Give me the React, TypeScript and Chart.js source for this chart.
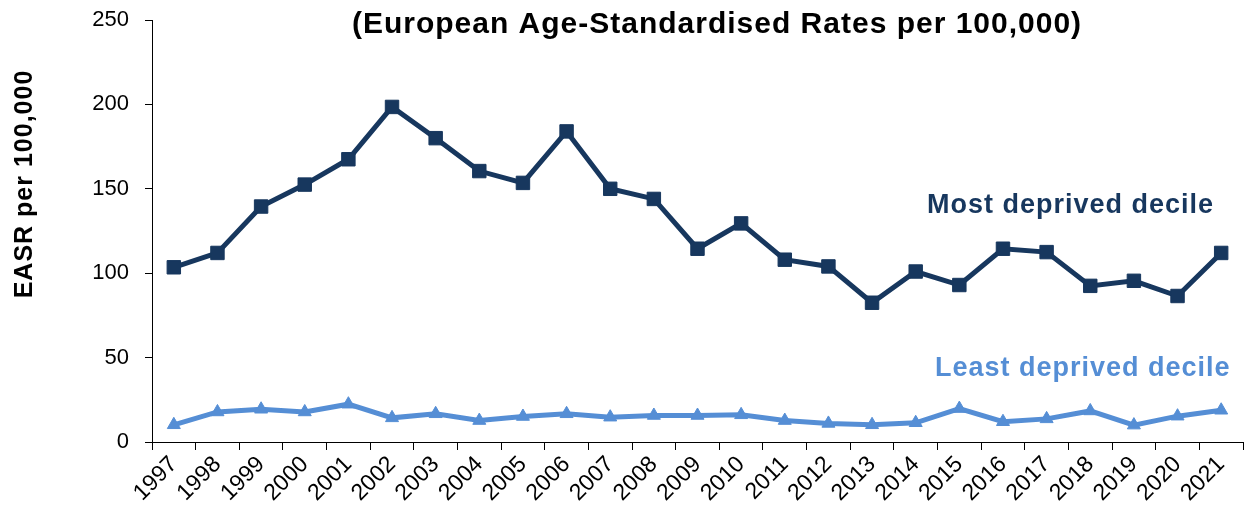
import React, { useEffect, useRef } from 'react';
import { Chart, registerables } from 'chart.js';

Chart.register(...registerables);

const years = ['1997', '1998', '1999', '2000', '2001', '2002', '2003', '2004', '2005', '2006', '2007', '2008', '2009', '2010', '2011', '2012', '2013', '2014', '2015', '2016', '2017', '2018', '2019', '2020', '2021'];
const mostDeprived = [103.5, 112, 139.5, 152.5, 167.5, 198.5, 180, 160.5, 153.5, 184, 150, 144, 114.5, 129.5, 108, 104, 82.5, 101, 93, 114.5, 112.5, 92.5, 95.5, 86.5, 112];
const leastDeprived = [10.2, 17.8, 19.4, 17.8, 22.4, 14.3, 16.7, 12.7, 15.1, 16.7, 14.7, 15.7, 15.7, 16.1, 12.7, 11, 10.2, 11.4, 19.8, 12, 13.7, 18.4, 10, 15.3, 18.8];
const yMin = 0;
const yMax = 250;
const yStep = 50;
const chartTitle = '(European Age-Standardised Rates per 100,000)';
const yAxisTitle = 'EASR per 100,000';
const seriesLabels = ['Most deprived decile', 'Least deprived decile'];

const DARK = '#17375E';
const LIGHT = '#558ED5';
const FONT = '"Liberation Sans", Arial, sans-serif';

const textPlugin = {
  id: 'textAnnotations',
  afterDraw(chart: any) {
    const ctx = chart.ctx as CanvasRenderingContext2D;
    ctx.save();
    (ctx as any).letterSpacing = '1px';
    ctx.fillStyle = '#000';
    ctx.font = `bold 30px ${FONT}`;
    ctx.textAlign = 'center';
    ctx.textBaseline = 'alphabetic';
    ctx.fillText(chartTitle, 717, 33);

    ctx.save();
    ctx.translate(25, 184);
    ctx.rotate(-Math.PI / 2);
    ctx.font = `bold 25px ${FONT}`;
    ctx.textBaseline = 'middle';
    ctx.fillText(yAxisTitle, 0, 0);
    ctx.restore();

    ctx.textAlign = 'left';
    ctx.font = `bold 27px ${FONT}`;
    ctx.fillStyle = DARK;
    ctx.fillText(seriesLabels[0], 927, 213);
    ctx.fillStyle = LIGHT;
    ctx.fillText(seriesLabels[1], 935, 376);
    ctx.restore();
  },
};

export default function App() {
  const canvasRef = useRef<HTMLCanvasElement | null>(null);

  useEffect(() => {
    if (!canvasRef.current) return;
    Chart.defaults.font.family = FONT;
    const chart = new Chart(canvasRef.current, {
      type: 'line',
      data: {
        labels: years,
        datasets: [
          {
            label: seriesLabels[0],
            data: mostDeprived,
            borderColor: DARK,
            backgroundColor: DARK,
            borderWidth: 5,
            pointStyle: 'rect',
            pointRadius: 9.5,
            pointBorderWidth: 1,
            tension: 0,
            clip: false,
          },
          {
            label: seriesLabels[1],
            data: leastDeprived,
            borderColor: LIGHT,
            backgroundColor: LIGHT,
            borderWidth: 5,
            pointStyle: 'triangle',
            pointRadius: 7.5,
            pointBorderWidth: 1,
            tension: 0,
            clip: false,
          },
        ],
      },
      options: {
        responsive: true,
        maintainAspectRatio: false,
        animation: false,
        layout: { autoPadding: false, padding: { top: 20, right: 3, left: 0, bottom: 0 } },
        plugins: {
          legend: { display: false },
          title: { display: false },
          tooltip: { enabled: false },
        },
        scales: {
          x: {
            type: 'category',
            offset: true,
            grid: { offset: true, drawOnChartArea: false, drawTicks: true, tickLength: 8, color: '#000' },
            border: { display: true, color: '#000', width: 1 },
            ticks: {
              color: '#000',
              font: { size: 23 },
              minRotation: 45,
              maxRotation: 45,
              autoSkip: false,
              padding: 1,
            },
            afterFit: (scale: any) => {
              scale.height = 72;
              scale.paddingRight = 0;
              scale.paddingLeft = 0;
            },
          },
          y: {
            min: yMin,
            max: yMax,
            ticks: { stepSize: yStep, color: '#000', font: { size: 22 }, padding: 16 },
            grid: { drawOnChartArea: false, drawTicks: true, tickLength: 7, color: '#000' },
            border: { display: true, color: '#000', width: 1 },
            afterFit: (scale: any) => {
              scale.width = 152;
              scale.paddingTop = 0;
              scale.paddingBottom = 0;
            },
          },
        },
      },
      plugins: [textPlugin],
    });
    return () => chart.destroy();
  }, []);

  return (
    <div style={{ position: 'fixed', left: 0, top: 0, width: 1246, height: 514 }}>
      <canvas ref={canvasRef} />
    </div>
  );
}
